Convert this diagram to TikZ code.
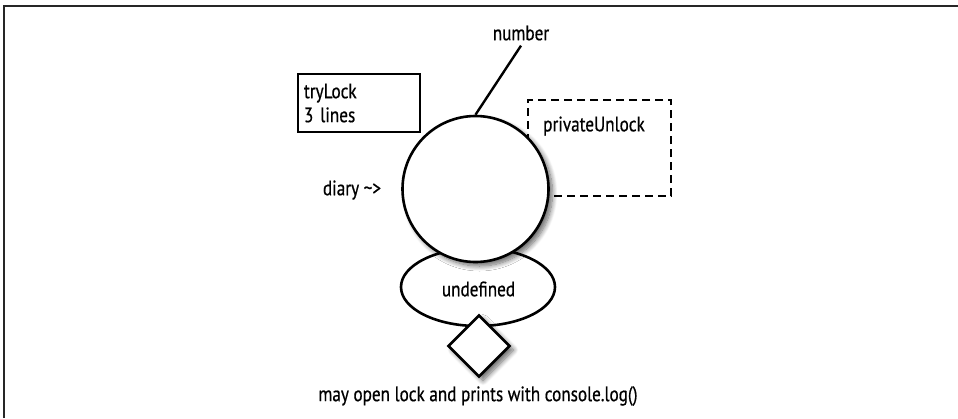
\documentclass[tikz,border=0pt]{standalone}
\usepackage{fontspec}
\setmainfont[FakeStretch=0.82,FakeBold=0.6]{PT Sans}
\usetikzlibrary{shapes.geometric,shadows.blur}
\tikzset{
  lbl/.style={inner sep=0pt, font=\fontsize{21}{24}\selectfont},
  solidline/.style={draw=black, line width=2.6bp},
  shad/.style={blur shadow={shadow xshift=4bp, shadow yshift=-4bp, shadow blur steps=10, shadow opacity=60, shadow blur radius=5bp}},
}
\begin{document}
\begin{tikzpicture}[x=1bp,y=-1bp]
\useasboundingbox (0,0) rectangle (958,418);
% frame
\coordinate (fbl) at (4,418);
\coordinate (ftl) at (4,6);
\coordinate (ftr) at (958,6);
\draw[line width=1.6bp, black!85] (fbl) -- (ftl) -- (ftr);
% tryLock box
\node[draw=black, line width=2.2bp, rectangle, minimum width=122bp, minimum height=58bp,
      text width=110bp, align=left, inner sep=0pt, font=\fontsize{21}{24}\selectfont]
      (try) at (359,103) {tryLock\\3 lines};
% dashed box
\node[draw=black, line width=2.2bp, dash pattern=on 8bp off 5bp, rectangle,
      minimum width=143bp, minimum height=96bp, inner sep=0pt] (priv) at (599.5,148) {};
\node[lbl] (privt) at (594,126) {privateUnlock};
% number label
\node[lbl] (num) at (521,33) {number};
% ellipse
\node[solidline, ellipse, fill=white, minimum width=154bp, minimum height=78bp, inner sep=0pt]
      (und) at (478,287) {};
\node[lbl] (undt) at (478.5,289) {undefined};
% circle
\node[solidline, circle, fill=white, minimum size=146bp, inner sep=0pt, shad] (circ) at (475.5,189) {};
\draw[line width=2.4bp] ([yshift=-5bp]num.south) -- (circ.north);
% diamond
\node[solidline, diamond, fill=white, minimum width=62bp, minimum height=62bp, inner sep=0pt, shad]
      (dia) at (479,346) {};
% texts
\node[lbl] (diary) at (352,190) {diary \char"007E>};
\node[lbl] (bottom) at (478,396) {may open lock and prints with console.log()};
\end{tikzpicture}
\end{document}
